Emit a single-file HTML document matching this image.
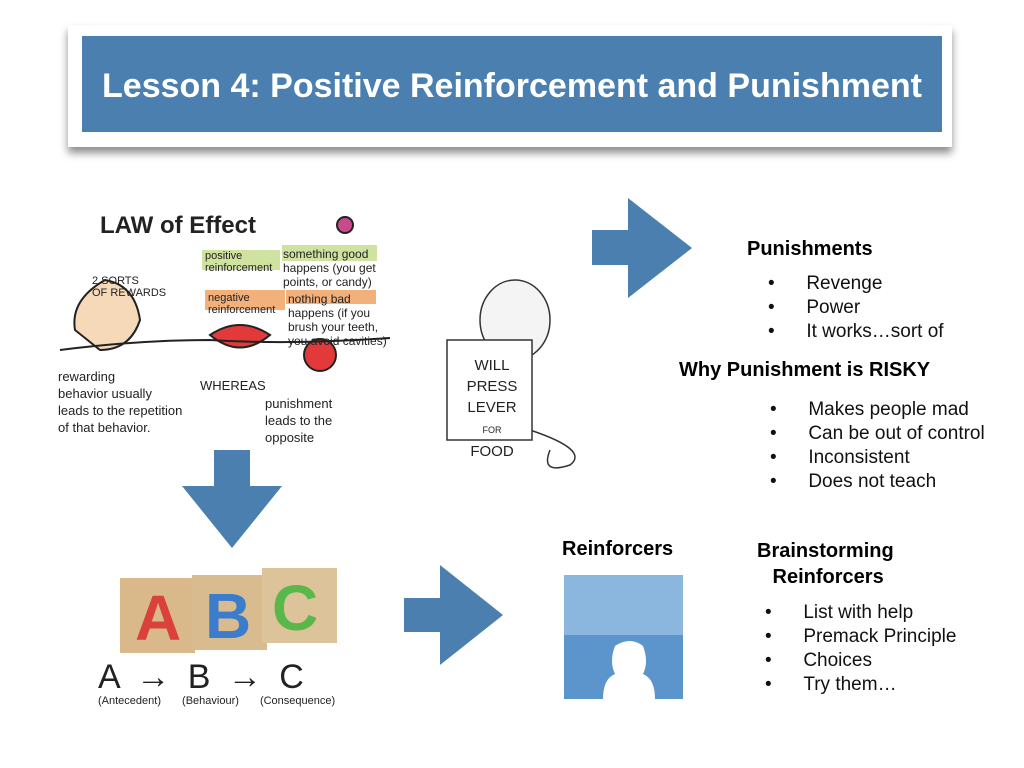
<!DOCTYPE html>
<html><head><meta charset="utf-8"><style>
body{margin:0;width:1024px;height:768px;background:#fff;position:relative;overflow:hidden;font-family:"Liberation Sans",sans-serif}
.a{position:absolute}
.t{font-size:19px;color:#111}
.b{font-weight:bold;font-size:20px;color:#000}
.h{font-family:"Liberation Sans",sans-serif;color:#222}
</style></head><body>
<div class="a" style="left:68px;top:25px;width:884px;height:122px;background:#fff;box-shadow:0 6px 8px rgba(0,0,0,.45)"></div>
<div class="a" style="left:82px;top:36px;width:860px;height:96px;background:#4a7fb0;color:#fff;font-weight:bold;font-size:34px;text-align:center;line-height:100px">Lesson 4: Positive Reinforcement and Punishment</div>

<svg class="a" style="left:0;top:0" width="1024" height="768">
<polygon points="592,230 628,230 628,198 692,248 628,298 628,265 592,265" fill="#4a7fb0"/>
<polygon points="214,450 250,450 250,486 282,486 232,548 182,486 214,486" fill="#4a7fb0"/>
<polygon points="404,598 440,598 440,565 503,615 440,665 440,632 404,632" fill="#4a7fb0"/>
<g stroke="#222" fill="none" stroke-width="2">
<path d="M75,330 q-5,-30 30,-50 q30,5 35,40 q-10,30 -40,30 z" fill="#f5d9b8"/>
<path d="M210,335 q30,-20 60,0 q-30,25 -60,0z" fill="#e23a3a"/>
<circle cx="320" cy="355" r="16" fill="#e23a3a"/>
<circle cx="345" cy="225" r="8" fill="#c94a8a"/>
<path d="M60,350 q80,-10 150,-10 q80,5 180,-2"/>
</g>
<rect x="202" y="250" width="78" height="20" fill="#cfe2a0"/>
<rect x="282" y="245" width="95" height="16" fill="#cfe2a0"/>
<rect x="205" y="290" width="80" height="20" fill="#f2b07a"/>
<rect x="286" y="290" width="90" height="14" fill="#f2b07a"/>
<g stroke="#333" fill="#f4f4f4" stroke-width="1.5">
<ellipse cx="515" cy="320" rx="35" ry="40"/>
<path d="M530,430 q60,20 40,35 q-30,10 -20,-15" fill="none"/>
<rect x="447" y="340" width="85" height="100" fill="#fff"/>
</g>
<rect x="120" y="578" width="75" height="75" fill="#d9b98a"/>
<rect x="192" y="575" width="75" height="75" fill="#d8bb8f"/>
<rect x="262" y="568" width="75" height="75" fill="#dcc39a"/>
<text x="135" y="640" font-size="64" font-weight="bold" fill="#d9413a" font-family="Liberation Sans">A</text>
<text x="205" y="638" font-size="64" font-weight="bold" fill="#3b7ccc" font-family="Liberation Sans">B</text>
<text x="272" y="630" font-size="64" font-weight="bold" fill="#5ab84a" font-family="Liberation Sans">C</text>
<rect x="564" y="575" width="119" height="124" fill="#5b95cc"/>
<rect x="564" y="575" width="119" height="60" fill="#8bb6dd"/>
<path d="M603,699 q0,-20 12,-25 q-6,-12 0,-28 q15,-10 28,0 q6,16 0,28 q12,5 12,25z" fill="#fff"/>
</svg>
<div class="a h" style="left:100px;top:212px;font-size:24px;font-weight:bold">LAW of Effect</div>
<div class="a h" style="left:92px;top:275px;font-size:11px">2 SORTS<br>OF REWARDS</div>
<div class="a h" style="left:205px;top:250px;font-size:11px">positive<br>reinforcement</div>
<div class="a h" style="left:283px;top:247px;font-size:12px;line-height:14px">something good<br>happens (you get<br>points, or candy)</div>
<div class="a h" style="left:208px;top:292px;font-size:11px">negative<br>reinforcement</div>
<div class="a h" style="left:288px;top:292px;font-size:12px;line-height:14px">nothing bad<br>happens (if you<br>brush your teeth,<br>you avoid cavities)</div>
<div class="a h" style="left:58px;top:368px;font-size:13px;line-height:17px">rewarding<br>behavior usually<br>leads to the repetition<br>of that behavior.</div>
<div class="a h" style="left:200px;top:378px;font-size:13px">WHEREAS</div>
<div class="a h" style="left:265px;top:395px;font-size:13px;line-height:17px">punishment<br>leads to the<br>opposite</div>
<div class="a h" style="left:452px;top:355px;font-size:15px;text-align:center;width:80px;line-height:21px">WILL<br>PRESS<br>LEVER<br><span style="font-size:9px">FOR</span><br>FOOD</div>
<div class="a h" style="left:98px;top:658px;font-size:34px;width:260px;word-spacing:8px">A → B → C</div>
<div class="a h" style="left:98px;top:695px;font-size:11px;width:260px;word-spacing:18px">(Antecedent) (Behaviour) (Consequence)</div>

<div class="a b" style="left:747px;top:238px">Punishments</div>
<div class="a t" style="left:768px;top:272px;line-height:24px">•&nbsp;&nbsp;&nbsp;&nbsp;&nbsp;&nbsp;Revenge<br>•&nbsp;&nbsp;&nbsp;&nbsp;&nbsp;&nbsp;Power<br>•&nbsp;&nbsp;&nbsp;&nbsp;&nbsp;&nbsp;It works…sort of</div>
<div class="a b" style="left:679px;top:359px">Why Punishment is RISKY</div>
<div class="a t" style="left:770px;top:398px;line-height:24px">•&nbsp;&nbsp;&nbsp;&nbsp;&nbsp;&nbsp;Makes people mad<br>•&nbsp;&nbsp;&nbsp;&nbsp;&nbsp;&nbsp;Can be out of control<br>•&nbsp;&nbsp;&nbsp;&nbsp;&nbsp;&nbsp;Inconsistent<br>•&nbsp;&nbsp;&nbsp;&nbsp;&nbsp;&nbsp;Does not teach</div>
<div class="a b" style="left:562px;top:538px">Reinforcers</div>
<div class="a b" style="left:757px;top:538px;text-align:center;line-height:26px">Brainstorming<br>&nbsp;Reinforcers</div>
<div class="a t" style="left:765px;top:601px;line-height:24px">•&nbsp;&nbsp;&nbsp;&nbsp;&nbsp;&nbsp;List with help<br>•&nbsp;&nbsp;&nbsp;&nbsp;&nbsp;&nbsp;Premack Principle<br>•&nbsp;&nbsp;&nbsp;&nbsp;&nbsp;&nbsp;Choices<br>•&nbsp;&nbsp;&nbsp;&nbsp;&nbsp;&nbsp;Try them…</div>
</body></html>
